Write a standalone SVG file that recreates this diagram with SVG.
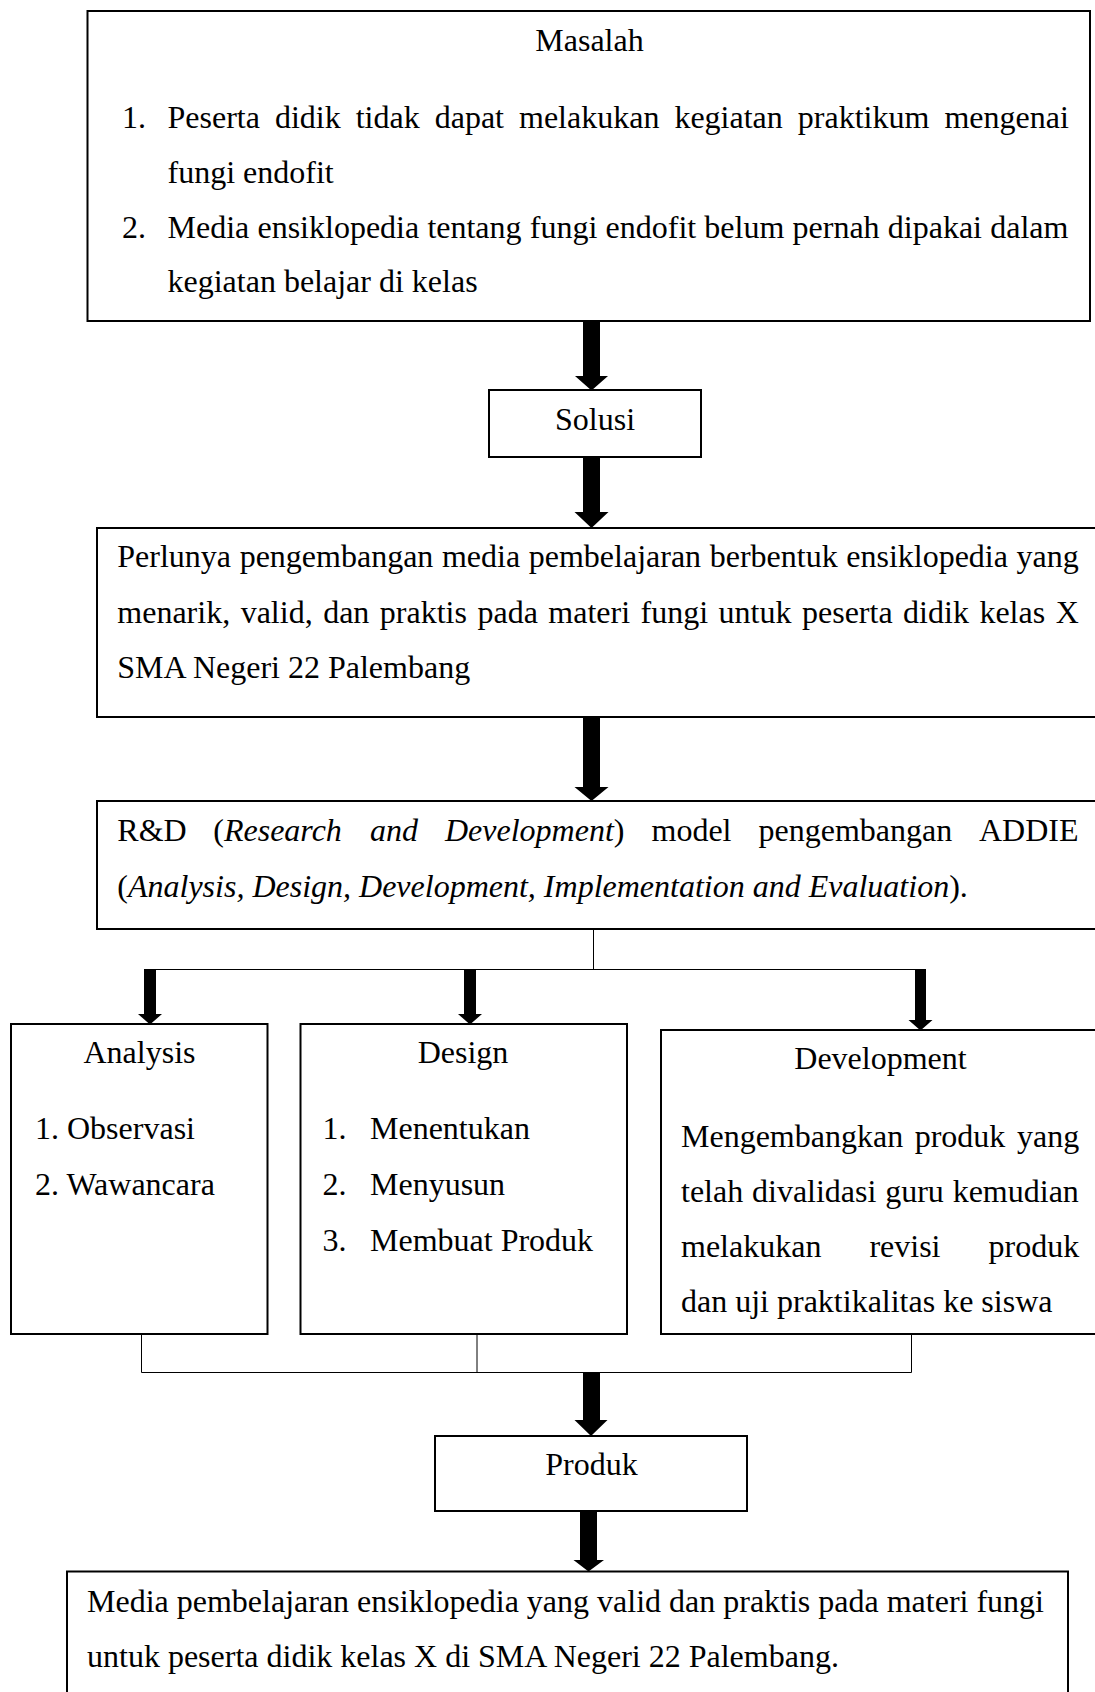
<svg xmlns="http://www.w3.org/2000/svg" width="1095" height="1692" viewBox="0 0 1095 1692">
<style>
.box{fill:#fff;stroke:#000;stroke-width:2}
.t{font-family:"Liberation Serif","Times New Roman",serif;font-size:32px;fill:#000}
.c{text-anchor:middle}
.i{font-style:italic}
.ln{stroke:#000;stroke-width:1;fill:none}
.ar{fill:#000;stroke:none}
</style>
<rect width="1095" height="1692" fill="#fff"/>

<g id="connectors">
<polygon class="ar" points="583,321 600,321 600,376 608,376 591.5,390.5 575,376 583,376"/>
<polygon class="ar" points="583,457 600,457 600,512 608.5,512 591.5,528 574.5,512 583,512"/>
<polygon class="ar" points="583,717 600,717 600,787 608.5,787 591.5,801 574.5,787 583,787"/>
<line class="ln" x1="593.5" y1="929" x2="593.5" y2="969.5"/>
<line class="ln" x1="144" y1="969.5" x2="926" y2="969.5"/>
<polygon class="ar" points="144,969 156,969 156,1014 162,1014 150,1024.5 138,1014 144,1014"/>
<polygon class="ar" points="464,969 476,969 476,1014 482,1014 470,1024.5 458,1014 464,1014"/>
<polygon class="ar" points="915,969 926,969 926,1020 932.5,1020 920.5,1030.5 908.5,1020 915,1020"/>
<line class="ln" x1="141.5" y1="1334" x2="141.5" y2="1372.5"/>
<line class="ln" x1="477" y1="1334" x2="477" y2="1372.5"/>
<line class="ln" x1="911.5" y1="1334" x2="911.5" y2="1372.5"/>
<line class="ln" x1="141.5" y1="1372.5" x2="911.5" y2="1372.5"/>
<polygon class="ar" points="583,1372 600,1372 600,1420 607.5,1420 591,1436 574.5,1420 583,1420"/>
<polygon class="ar" points="580,1511 597,1511 597,1560 604,1560 588.5,1571.5 573.5,1560 580,1560"/>
</g>

<g id="masalah">
<rect class="box" x="87.5" y="11" width="1002.5" height="310"/>
<text class="t c" x="589.5" y="51">Masalah</text>
<text class="t" x="122" y="128">1.</text>
<text class="t" y="128"><tspan x="167.5">Peserta</tspan><tspan x="274.9">didik</tspan><tspan x="355.7">tidak</tspan><tspan x="434.7">dapat</tspan><tspan x="519">melakukan</tspan><tspan x="674.4">kegiatan</tspan><tspan x="797.8">praktikum</tspan><tspan x="944.4">mengenai</tspan></text>
<text class="t" x="167.5" y="183">fungi endofit</text>
<text class="t" x="122" y="237.5">2.</text>
<text class="t" x="167.5" y="237.5" word-spacing="0.2">Media ensiklopedia tentang fungi endofit belum pernah dipakai dalam</text>
<text class="t" x="167.5" y="292">kegiatan belajar di kelas</text>
</g>

<g id="solusi">
<rect class="box" x="489" y="390" width="212" height="67"/>
<text class="t c" x="595" y="430">Solusi</text>
</g>

<g id="perlunya">
<rect class="box" x="97" y="528" width="1010" height="189"/>
<text class="t" x="117.3" y="567" word-spacing="0.6">Perlunya pengembangan media pembelajaran berbentuk ensiklopedia yang</text>
<text class="t" x="117.3" y="622.5" word-spacing="2.5">menarik, valid, dan praktis pada materi fungi untuk peserta didik kelas X</text>
<text class="t" x="117.3" y="678">SMA Negeri 22 Palembang</text>
</g>

<g id="rnd">
<rect class="box" x="97" y="801" width="1010" height="128"/>
<text class="t" y="841"><tspan x="117.3">R&amp;D</tspan><tspan x="213.3">(</tspan><tspan class="i">Research</tspan><tspan class="i" x="370">and</tspan><tspan class="i" x="445">Development</tspan><tspan>)</tspan><tspan x="651.5">model</tspan><tspan x="758.5">pengembangan</tspan><tspan x="979">ADDIE</tspan></text>
<text class="t" x="117.3" y="896.5">(<tspan class="i">Analysis, Design, Development, Implementation and Evaluation</tspan>).</text>
</g>

<g id="analysis">
<rect class="box" x="11" y="1024" width="256.5" height="310"/>
<text class="t c" x="139.5" y="1062.5">Analysis</text>
<text class="t" x="35" y="1139">1. Observasi</text>
<text class="t" x="35" y="1195">2. Wawancara</text>
</g>

<g id="design">
<rect class="box" x="300.5" y="1024" width="326.5" height="310"/>
<text class="t c" x="463" y="1062.5">Design</text>
<text class="t" x="322.6" y="1139">1.</text>
<text class="t" x="370" y="1139">Menentukan</text>
<text class="t" x="322.6" y="1195">2.</text>
<text class="t" x="370" y="1195">Menyusun</text>
<text class="t" x="322.6" y="1250.5">3.</text>
<text class="t" x="370" y="1250.5">Membuat Produk</text>
</g>

<g id="development">
<rect class="box" x="661" y="1030" width="450" height="304"/>
<text class="t c" x="880.5" y="1069">Development</text>
<text class="t" y="1146.5"><tspan x="681">Mengembangkan</tspan><tspan x="914.7">produk</tspan><tspan x="1017">yang</tspan></text>
<text class="t" x="681" y="1201.5" word-spacing="0.8">telah divalidasi guru kemudian</text>
<text class="t" y="1256.5"><tspan x="681">melakukan</tspan><tspan x="869.4">revisi</tspan><tspan x="988.5">produk</tspan></text>
<text class="t" x="681" y="1311.5">dan uji praktikalitas ke siswa</text>
</g>

<g id="produk">
<rect class="box" x="435" y="1436" width="312" height="75"/>
<text class="t c" x="591.5" y="1475">Produk</text>
</g>

<g id="hasil">
<rect class="box" x="67" y="1571.5" width="1001" height="200"/>
<text class="t" x="87" y="1611.5">Media pembelajaran ensiklopedia yang valid dan praktis pada materi fungi</text>
<text class="t" x="87" y="1667">untuk peserta didik kelas X di SMA Negeri 22 Palembang.</text>
</g>
</svg>
